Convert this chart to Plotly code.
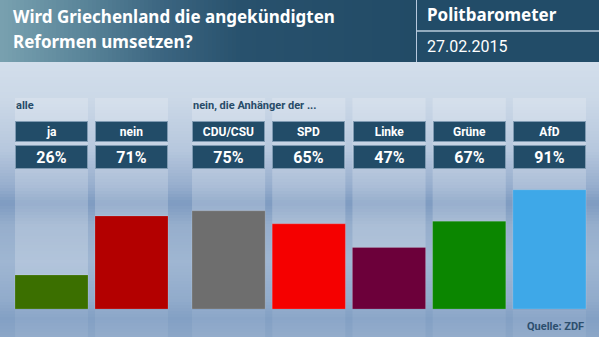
import numpy as np
import plotly.graph_objects as go

# --- data ---------------------------------------------------------------
all_categories = ["ja", "nein"]
all_values = [26, 71]
party_categories = ["CDU/CSU", "SPD", "Linke", "Grüne", "AfD"]
party_values = [75, 65, 47, 67, 91]

title_lines = ["Wird Griechenland die angekündigten", "Reformen umsetzen?"]
brand = "Politbarometer"
date_label = "27.02.2015"
group_labels = ["alle", "nein, die Anhänger der ..."]
source = "Quelle: ZDF"

all_colors = ["#3b6f00", "#b30000"]
party_colors = ["#6e6e6e", "#f50000", "#6c003a", "#0b8600", "#3ea8e8"]

# --- geometry (pixels) ---------------------------------------------------
W, H = 599, 337
BASE = 309            # pixel row of the bar baseline
PX_PER_PCT = 1.31
HEADER_H = 62
DIVIDER_X = 416
FONT = "Roboto"
HEAD_FONT = "Noto Sans"
NAVY = "#224c68"


def py(y):
    """pixel row -> paper y"""
    return 1 - y / H


def px(x):
    return x / W


def hexrgb(c):
    c = c.lstrip("#")
    return np.array([int(c[i:i + 2], 16) for i in (0, 2, 4)], float)


def lerp_color(stops, t):
    pos = [s[0] for s in stops]
    cols = np.array([hexrgb(s[1]) for s in stops])
    rgb = [np.interp(t, pos, cols[:, k]) for k in range(3)]
    return "rgb({:.0f},{:.0f},{:.0f})".format(*rgb)


shapes = []

# background: vertical gradient built from thin bands
bg_stops = [(62, "#d2deeb"), (100, "#cbd8e7"), (150, "#b6c7dd"), (185, "#98afce"),
            (203, "#7e9bc1"), (225, "#96aecc"), (262, "#9fb6d2"), (300, "#91abcb"),
            (318, "#83a0c4"), (337, "#8ba6c7")]
step = 3
for y in range(HEADER_H, H, step):
    shapes.append(dict(type="rect", xref="paper", yref="paper", layer="below",
                       x0=0, x1=1, y0=py(min(y + step, H)), y1=py(y),
                       fillcolor=lerp_color(bg_stops, y + step / 2), line_width=0))

# header: left block with horizontal gradient, right block flat
hd_stops = [(0, "#79a1b0"), (80, "#5b869a"), (160, "#3c6681"), (240, "#28516d"), (DIVIDER_X, "#224b66")]
step = 4
for x in range(0, DIVIDER_X, step):
    shapes.append(dict(type="rect", xref="paper", yref="paper", layer="below",
                       x0=px(x), x1=px(min(x + step, DIVIDER_X)), y0=py(HEADER_H), y1=1,
                       fillcolor=lerp_color(hd_stops, x + step / 2), line_width=0))
shapes.append(dict(type="rect", xref="paper", yref="paper", layer="below",
                   x0=px(DIVIDER_X + 1), x1=1, y0=py(HEADER_H), y1=1,
                   fillcolor=NAVY, line_width=0))
shapes.append(dict(type="line", xref="paper", yref="paper", layer="below",
                   x0=px(DIVIDER_X + 1), x1=1, y0=py(31), y1=py(31),
                   line=dict(color="#b9cbdb", width=1.5)))

# translucent column panels behind every bar
HALF = 0.456
for xref, n in (("x", len(all_categories)), ("x2", len(party_categories))):
    for i in range(n):
        shapes.append(dict(type="rect", xref=xref, yref="paper", layer="below",
                           x0=i - HALF, x1=i + HALF, y0=py(BASE), y1=py(98),
                           fillcolor="rgba(255,255,255,0.2)", line_width=0))
        shapes.append(dict(type="rect", xref=xref, yref="paper", layer="below",
                           x0=i - HALF, x1=i + HALF, y0=0, y1=py(BASE + 1),
                           fillcolor="rgba(255,255,255,0.07)", line_width=0))

# --- bars -----------------------------------------------------------------
fig = go.Figure()
fig.add_trace(go.Bar(x=all_categories, y=all_values, xaxis="x", yaxis="y",
                     marker=dict(color=all_colors, line=dict(color="rgba(255,255,255,0.25)", width=0.6)),
                     hoverinfo="skip", showlegend=False))
fig.add_trace(go.Bar(x=party_categories, y=party_values, xaxis="x2", yaxis="y",
                     marker=dict(color=party_colors, line=dict(color="rgba(255,255,255,0.25)", width=0.6)),
                     hoverinfo="skip", showlegend=False))

# --- text -----------------------------------------------------------------
annotations = []
for i, line in enumerate(title_lines):
    annotations.append(dict(text=f"<b>{line}</b>", xref="paper", yref="paper",
                            x=px(11), y=py(17 + 25 * i), xanchor="left", yanchor="middle",
                            showarrow=False, font=dict(family=HEAD_FONT, size=17, color="white")))
annotations.append(dict(text=f"<b>{brand}</b>", xref="paper", yref="paper",
                        x=px(425), y=py(15), xanchor="left", yanchor="middle",
                        showarrow=False, font=dict(family=HEAD_FONT, size=17, color="white")))
annotations.append(dict(text=date_label, xref="paper", yref="paper",
                        x=px(425), y=py(46), xanchor="left", yanchor="middle",
                        showarrow=False, font=dict(family=FONT, size=16, color="white")))

for xref, label, left in (("x", group_labels[0], 15), ("x2", group_labels[1], 192)):
    annotations.append(dict(text=f"<b>{label}</b>", xref="paper", yref="paper",
                            x=px(left - 1), y=py(105), xanchor="left", yanchor="middle",
                            showarrow=False, font=dict(family=FONT, size=11, color="#274b68")))

for xref, cats, vals in (("x", all_categories, all_values), ("x2", party_categories, party_values)):
    for c, v in zip(cats, vals):
        annotations.append(dict(text=f"<b>{c}</b>", xref=xref, yref="paper", x=c, y=py(131.5),
                                xanchor="center", yanchor="middle", showarrow=False,
                                width=71, height=19, borderpad=0, borderwidth=1,
                                bgcolor=NAVY, bordercolor="#7f9ab2",
                                font=dict(family=FONT, size=12, color="white")))
        annotations.append(dict(text=f"<b>{v}%</b>", xref=xref, yref="paper", x=c, y=py(157),
                                xanchor="center", yanchor="middle", showarrow=False,
                                width=71, height=22, borderpad=0, borderwidth=1,
                                bgcolor=NAVY, bordercolor="#7f9ab2",
                                font=dict(family=FONT, size=16, color="white")))

annotations.append(dict(text=f"<b>{source}</b>", xref="paper", yref="paper",
                        x=px(586), y=py(326), xanchor="right", yanchor="middle",
                        showarrow=False, font=dict(family=FONT, size=11, color="#2c4f6e")))

axis_common = dict(type="category", showgrid=False, showticklabels=False, ticks="",
                   zeroline=False, showline=False, fixedrange=True)
fig.update_layout(
    width=W, height=H, margin=dict(l=0, r=0, t=0, b=0),
    paper_bgcolor="#b7c8dd", plot_bgcolor="rgba(0,0,0,0)",
    bargap=1 - 73 / 80,
    xaxis=dict(domain=[px(11.5), px(171.5)], **axis_common),
    xaxis2=dict(domain=[px(188.5), px(589.5)], anchor="y", **axis_common),
    yaxis=dict(domain=[1 - BASE / H, 1], range=[0, BASE / PX_PER_PCT], showgrid=False,
               showticklabels=False, zeroline=False, showline=False, fixedrange=True),
    shapes=shapes, annotations=annotations,
)

fig.write_html("out.html")
